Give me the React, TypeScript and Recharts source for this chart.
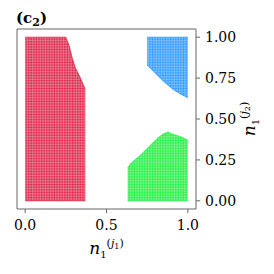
import React from 'react';
import { ComposedChart, Area, XAxis, YAxis, ReferenceArea } from 'recharts';

// ---- data ----
const xTicks = [0, 0.5, 1];
const yTicks = [0, 0.25, 0.5, 0.75, 1];

// red region (bottom = 0)
const redX = [0, 0.25, 0.27, 0.29, 0.31, 0.34, 0.37];
const redTop = [1, 1, 0.95, 0.87, 0.81, 0.75, 0.68];
const redBottom = [0, 0, 0, 0, 0, 0, 0];

// blue region (top = 1)
const blueX = [0.75, 0.79, 0.85, 0.91, 0.96, 1.0];
const blueTop = [1, 1, 1, 1, 1, 1];
const blueBottom = [0.83, 0.79, 0.73, 0.68, 0.65, 0.63];

// green region (bottom = 0)
const greenX = [0.63, 0.65, 0.71, 0.77, 0.81, 0.85, 0.88, 0.9, 0.96, 1.0];
const greenTop = [0.2, 0.23, 0.28, 0.34, 0.38, 0.41, 0.42, 0.41, 0.39, 0.37];
const greenBottom = [0, 0, 0, 0, 0, 0, 0, 0, 0, 0];

const RED = '#dc143c';
const BLUE = '#1e90ff';
const GREEN = '#11ee33';
const FRAME = '#666666';
const FONT = 'DejaVu Serif';

type Row = { x: number; red?: [number, number]; blue?: [number, number]; green?: [number, number] };

function buildRows(): Row[] {
  const map = new Map<number, Row>();
  const add = (xs: number[], lo: number[], hi: number[], key: 'red' | 'blue' | 'green') => {
    xs.forEach((x, i) => {
      const r: Row = map.get(x) ?? { x };
      r[key] = [lo[i], hi[i]];
      map.set(x, r);
    });
  };
  add(redX, redBottom, redTop, 'red');
  add(blueX, blueBottom, blueTop, 'blue');
  add(greenX, greenBottom, greenTop, 'green');
  return Array.from(map.values()).sort((a, b) => a.x - b.x);
}

const rows = buildRows();

const fmt1 = (v: number) => v.toFixed(1);
const fmt2 = (v: number) => v.toFixed(2);

const AxisLabelText = ({ sub2 }: { sub2: string }) => (
  <>
    <tspan fontStyle="italic" fontSize={17}>n</tspan>
    <tspan fontSize={10} dy={4}>1</tspan>
    <tspan fontSize={11} dy={-11}>(</tspan>
    <tspan fontSize={11} fontStyle="italic">j</tspan>
    <tspan fontSize={8} dy={2}>{sub2}</tspan>
    <tspan fontSize={11} dy={-2}>)</tspan>
  </>
);

const XLabel = (props: any) => {
  const vb = props.viewBox || { x: 17, y: 209, width: 179, height: 65 };
  const cx = vb.x + vb.width / 2;
  const by = vb.y + 45;
  return (
    <text x={cx} y={by} textAnchor="middle" fontFamily={FONT} fill="#000">
      <AxisLabelText sub2="1" />
    </text>
  );
};

const YLabel = (props: any) => {
  const vb = props.viewBox || { x: 196, y: 29, width: 78, height: 180 };
  const px = vb.x + 59;
  const py = vb.y + vb.height / 2;
  return (
    <text x={px} y={py} textAnchor="middle" fontFamily={FONT} fill="#000" transform={`rotate(-90, ${px}, ${py})`}>
      <AxisLabelText sub2="2" />
    </text>
  );
};

const Pattern = ({ id, color }: { id: string; color: string }) => (
  <pattern id={id} patternUnits="userSpaceOnUse" x={24.7} y={200.3} width={1.633} height={1.626}>
    <rect x={0} y={0} width={1.633} height={1.626} fill={color} fillOpacity={0.45} />
    <rect x={0} y={0} width={1.15} height={1.15} fill={color} />
  </pattern>
);

const tickStyle = { fill: '#000', fontSize: 14, fontFamily: FONT };

export default function App() {
  return (
    <div style={{ position: 'absolute', left: 0, top: 0, width: 274, height: 274, background: '#fff' }}>
      <svg width={274} height={40} style={{ position: 'absolute', left: 0, top: 0 }}>
        <text x={16} y={23} fontFamily={FONT} fontWeight="bold" fontSize={15} fill="#000">
          (c<tspan fontSize={11} dy={3}>2</tspan><tspan dy={-3}>)</tspan>
        </text>
      </svg>
      <ComposedChart
        width={274}
        height={274}
        data={rows}
        margin={{ top: 29, left: 17, right: 0, bottom: 0 }}
        style={{ position: 'absolute', left: 0, top: 0 }}
      >
        <defs>
          <Pattern id="pRed" color={RED} />
          <Pattern id="pBlue" color={BLUE} />
          <Pattern id="pGreen" color={GREEN} />
        </defs>
        <XAxis
          type="number"
          dataKey="x"
          domain={[-0.05, 1.05]}
          ticks={xTicks}
          tickFormatter={fmt1}
          allowDataOverflow
          height={65}
          axisLine={false}
          tickLine={{ stroke: FRAME }}
          tickSize={4}
          tickMargin={7}
          tick={tickStyle}
          label={{ content: XLabel }}
        />
        <YAxis
          type="number"
          orientation="right"
          domain={[-0.05, 1.05]}
          ticks={yTicks}
          tickFormatter={fmt2}
          allowDataOverflow
          width={78}
          axisLine={false}
          tickLine={{ stroke: FRAME }}
          tickSize={4}
          tickMargin={5}
          tick={tickStyle}
          label={{ content: YLabel }}
        />
        <Area
          type="linear"
          dataKey="red"
          fill="url(#pRed)"
          fillOpacity={1}
          stroke={RED}
          strokeOpacity={0.7}
          strokeWidth={1}
          isAnimationActive={false}
          dot={false}
          activeDot={false}
        />
        <Area
          type="linear"
          dataKey="blue"
          connectNulls
          fill="url(#pBlue)"
          fillOpacity={1}
          stroke={BLUE}
          strokeOpacity={0.7}
          strokeWidth={1}
          isAnimationActive={false}
          dot={false}
          activeDot={false}
        />
        <Area
          type="linear"
          dataKey="green"
          connectNulls
          fill="url(#pGreen)"
          fillOpacity={1}
          stroke={GREEN}
          strokeOpacity={0.7}
          strokeWidth={1}
          isAnimationActive={false}
          dot={false}
          activeDot={false}
        />
        <ReferenceArea x1={-0.05} x2={1.05} y1={-0.05} y2={1.05} fill="none" fillOpacity={0} stroke={FRAME} strokeWidth={1} />
      </ComposedChart>
    </div>
  );
}
